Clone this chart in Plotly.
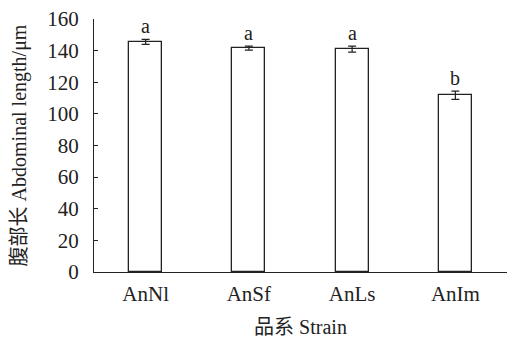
import plotly.graph_objects as go

strains = ["AnNl", "AnSf", "AnLs", "AnIm"]
lengths = [145.5, 141.6, 140.9, 111.8]
errors = [1.6, 1.3, 1.9, 2.6]
letters = ["a", "a", "a", "b"]
y_ticks = [0, 20, 40, 60, 80, 100, 120, 140, 160]

FONT = "Liberation Serif, Noto Sans CJK SC, serif"

fig = go.Figure()
fig.add_trace(go.Bar(
    x=strains, y=lengths, width=0.32,
    marker=dict(color="white", line=dict(color="#222", width=1.3)),
    error_y=dict(type="data", array=errors, visible=True, color="#222", thickness=1.2, width=4),
))
for s, v, e, l in zip(strains, lengths, errors, letters):
    fig.add_annotation(x=s, y=v + e, text=l, showarrow=False, yanchor="bottom", yshift=0,
                       font=dict(family=FONT, size=20, color="#222"))

fig.update_layout(
    width=507, height=340,
    margin=dict(l=94, r=0, t=19, b=68),
    plot_bgcolor="white", paper_bgcolor="white",
    font=dict(family=FONT, size=21, color="#222"),
    showlegend=False,
    bargap=0,
)
fig.update_xaxes(
    showline=True, linecolor="#222", linewidth=1.3, ticks="", showgrid=False,
    tickfont=dict(size=21), ticklabelstandoff=3,
    title=dict(text="品系 Strain", font=dict(size=20), standoff=14),
)
fig.update_yaxes(
    range=[0, 160], tickvals=y_ticks, showline=True, linecolor="#222", linewidth=1.3,
    ticks="inside", ticklen=4, tickcolor="#222", showgrid=False, zeroline=False,
    tickfont=dict(size=21), ticklabelstandoff=10,
    title=dict(text="腹部长 Abdominal length/μm", font=dict(size=20), standoff=15),
)
fig.write_html("out.html", config={"displayModeBar": False},
               post_script="document.body.style.margin='0';document.body.style.padding='0';")
